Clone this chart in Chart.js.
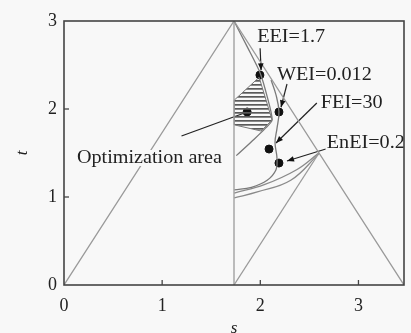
<!DOCTYPE html>
<html>
<head>
<meta charset="utf-8">
<script src="https://cdn.jsdelivr.net/npm/chart.js@4.4.0/dist/chart.umd.min.js"></script>
<style>
  html, body { margin: 0; padding: 0; background: #f8f8f8; }
</style>
</head>
<body>
<canvas id="chart" width="411" height="333"></canvas>
<script>
// tick labels
const xTicks = [0, 1, 2, 3];
const yTicks = [0, 1, 2, 3];

// frame lines of the diagram, as [s, t]
const bigTriangle = [[0, 0], [1.732, 3], [3.464, 0]];
const midLine = [[1.732, 0], [1.732, 3]];
const innerLine = [[1.732, 0], [2.598, 1.5]];

// hatched optimization area (closed)
const optArea = [[1.734, 2.10], [1.988, 2.36], [2.12, 1.875], [2.008, 1.75], [1.734, 1.82], [1.734, 2.10]];

// index contour curves
const eeiCurve = [[1.732, 3], [1.87, 2.70], [1.998, 2.41], [2.07, 2.14], [2.12, 1.875], [2.05, 1.78], [1.94, 1.66], [1.755, 1.47]];
const weiCurve = [[2.11, 2.33], [2.16, 2.16], [2.19, 1.97], [2.17, 1.78], [2.15, 1.62], [2.17, 1.44], [2.16, 1.31], [2.07, 1.19], [1.91, 1.11], [1.735, 1.08]];
const arcB = [[2.596, 1.5], [2.37, 1.31], [2.04, 1.14], [1.735, 1.045]];
const arcC = [[2.596, 1.49], [2.31, 1.19], [1.97, 1.057], [1.735, 0.99]];

// marked points
const dots = [[1.996, 2.386], [1.866, 1.966], [2.19, 1.966], [2.089, 1.545], [2.19, 1.386]];

// leader lines [from, to, arrow]
const leaders = [
    [[1.998, 2.69], [2.008, 2.44], true],
    [[2.272, 2.284], [2.211, 2.02], true],
    [[2.576, 2.068], [2.160, 1.614], true],
    [[2.667, 1.545], [2.272, 1.409], true],
    [[1.197, 1.693], [1.866, 1.966], false]
];

// annotation texts [text, s, t]
const notes = [
    ['EEI=1.7', 1.968, 2.818],
    ['WEI=0.012', 2.170, 2.386],
    ['FEI=30', 2.617, 2.068],
    ['EnEI=0.2', 2.677, 1.614],
    ['Optimization area', 0.132, 1.443]
];

const toXY = arr => arr.map(p => ({ x: p[0], y: p[1] }));
const bg = '#f8f8f8';
const serif = '"Liberation Serif", "Times New Roman", serif';

const canvas = document.getElementById('chart');
const ctx0 = canvas.getContext('2d');

const makeStripes = () => {
    const c = document.createElement('canvas');
    c.width = 8; c.height = 4;
    const g = c.getContext('2d');
    g.fillStyle = '#5a5a5a';
    g.fillRect(0, 0, 8, 1.7);
    return ctx0.createPattern(c, 'repeat');
};

const lineSet = (arr, color, width, extra) => Object.assign({
    data: toXY(arr),
    borderColor: color,
    borderWidth: width,
    pointRadius: 0,
    tension: 0,
    fill: false
}, extra || {});

const datasets = [
    lineSet(bigTriangle, '#9a9a9a', 1.3),
    lineSet(midLine, '#9a9a9a', 1.3),
    lineSet(innerLine, '#9a9a9a', 1.3),
    lineSet(optArea, '#777', 1, { fill: 'shape', backgroundColor: makeStripes() }),
    lineSet(eeiCurve, '#7a7a7a', 1.3, { tension: 0.25 }),
    lineSet(weiCurve, '#7a7a7a', 1.3, { tension: 0.4 }),
    lineSet(arcB, '#8a8a8a', 1.3, { tension: 0.4 }),
    lineSet(arcC, '#8a8a8a', 1.3, { tension: 0.4 })
];
leaders.forEach(l => datasets.push(lineSet([l[0], l[1]], '#222', 1.2, { arrow: l[2] })));
datasets.push({
    data: toXY(dots),
    showLine: false,
    pointRadius: 4,
    pointBackgroundColor: '#111',
    pointBorderColor: '#111'
});

const decor = {
    id: 'decor',
    afterDatasetsDraw(chart) {
        const { ctx, chartArea: a, scales: { x, y } } = chart;
        ctx.save();

        // arrow heads at leader ends
        chart.data.datasets.forEach((ds, i) => {
            if (!ds.arrow) return;
            const pts = chart.getDatasetMeta(i).data;
            const p0 = pts[0], p1 = pts[1];
            const ang = Math.atan2(p1.y - p0.y, p1.x - p0.x);
            ctx.save();
            ctx.translate(p1.x, p1.y);
            ctx.rotate(ang);
            ctx.fillStyle = '#111';
            ctx.beginPath();
            ctx.moveTo(0, 0);
            ctx.lineTo(-7, -2.8);
            ctx.lineTo(-7, 2.8);
            ctx.closePath();
            ctx.fill();
            ctx.restore();
        });

        // annotation texts
        ctx.font = '18px ' + serif;
        ctx.textBaseline = 'middle';
        notes.forEach(([t, sv, tv]) => {
            const px = x.getPixelForValue(sv), py = y.getPixelForValue(tv);
            const w = ctx.measureText(t).width * 1.12;
            ctx.fillStyle = bg;
            ctx.fillRect(px - 1, py - 8, w + 2, 16);
            ctx.save();
            ctx.translate(px, py);
            ctx.scale(1.12, 1);
            ctx.fillStyle = '#222';
            ctx.fillText(t, 0, 0);
            ctx.restore();
        });

        // inward tick marks
        ctx.strokeStyle = '#444';
        ctx.lineWidth = 1.3;
        xTicks.slice(1).forEach(v => {
            const px = x.getPixelForValue(v);
            ctx.beginPath(); ctx.moveTo(px, a.bottom); ctx.lineTo(px, a.bottom - 5); ctx.stroke();
        });
        yTicks.slice(1, -1).forEach(v => {
            const py = y.getPixelForValue(v);
            ctx.beginPath(); ctx.moveTo(a.left, py); ctx.lineTo(a.left + 5, py); ctx.stroke();
        });

        // frame
        ctx.lineWidth = 1.6;
        ctx.strokeRect(a.left, a.top, a.right - a.left, a.bottom - a.top);
        ctx.restore();
    }
};

const bgPlugin = {
    id: 'bg',
    beforeDraw(chart) {
        const c = chart.ctx;
        c.save();
        c.fillStyle = bg;
        c.fillRect(0, 0, chart.width, chart.height);
        c.restore();
    }
};

new Chart(canvas, {
    type: 'line',
    data: { datasets },
    options: {
        responsive: false,
        animation: false,
        devicePixelRatio: 1,
        layout: { padding: { top: 21, right: 7, left: 0, bottom: 0 } },
        plugins: { legend: { display: false }, tooltip: { enabled: false } },
        scales: {
            x: {
                type: 'linear',
                min: 0,
                max: 3.464,
                afterBuildTicks: sc => { sc.ticks = xTicks.map(v => ({ value: v })); },
                afterFit: sc => { sc.height = 48; },
                grid: { display: false, drawTicks: false },
                border: { display: false },
                ticks: { font: { family: serif, size: 18 }, color: '#222', padding: 10, maxRotation: 0, autoSkip: false },
                title: { display: true, text: 's', color: '#222', font: { family: serif, size: 17, style: 'italic' }, padding: { top: 0, bottom: -6 } }
            },
            y: {
                min: 0,
                max: 3,
                afterBuildTicks: sc => { sc.ticks = yTicks.map(v => ({ value: v })); },
                afterFit: sc => { sc.width = 64; },
                grid: { display: false, drawTicks: false },
                border: { display: false },
                ticks: { font: { family: serif, size: 18 }, color: '#222', padding: 7 },
                title: { display: true, text: 't', color: '#222', font: { family: serif, size: 17, style: 'italic' }, padding: { top: 12, bottom: 0 } }
            }
        }
    },
    plugins: [bgPlugin, decor]
});
</script>
</body>
</html>
